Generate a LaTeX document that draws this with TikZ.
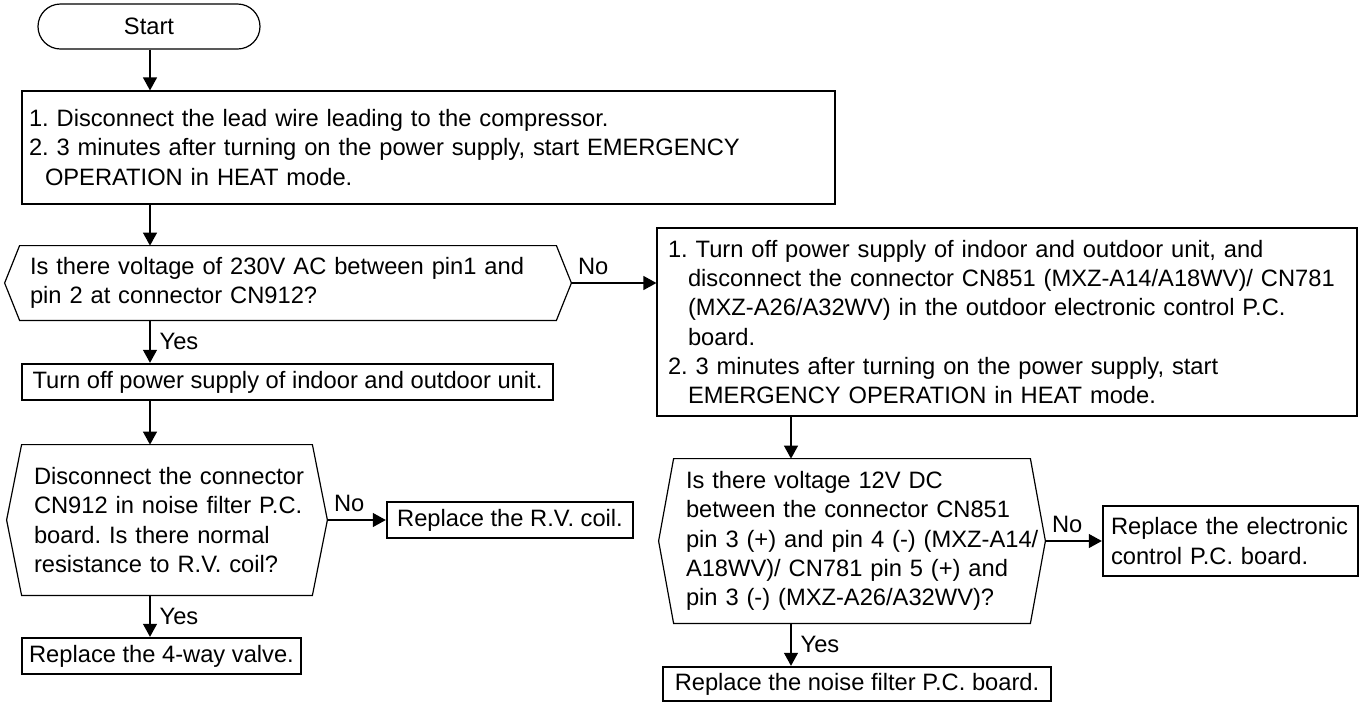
\documentclass[tikz,border=0pt]{standalone}
\usepackage{fontspec}
\setmainfont{Liberation Sans}
\usetikzlibrary{arrows.meta}
\frenchspacing
\newcommand\drawhexagon[1]{%
  \draw[thinline] (#1.north west) -- (#1.north east) -- ([xshift=7.5pt]#1.east) -- (#1.south east) -- (#1.south west) -- ([xshift=-7.5pt]#1.west) -- cycle;}
\begin{document}
\frenchspacing
\begin{tikzpicture}[x=0.5pt,y=-0.5pt,
  every node/.style={font=\fontsize{11.85pt}{14.6pt}\selectfont\frenchspacing, inner sep=0pt},
  thinline/.style={line width=0.6pt},
  arr/.style={thinline, -{Triangle[length=6.5pt,width=7pt]}},
  thinbox/.style={draw, thinline, align=left},
  thickbox/.style={draw, line width=1.2pt, align=center},
  decbody/.style={align=left},
  nolbl/.style={anchor=south west, xshift=3pt, yshift=4pt},
  yeslbl/.style={anchor=west, xshift=4.5pt},
]
\useasboundingbox (0,0) rectangle (1360,703);

\coordinate (colL) at (150,0);
\coordinate (colR) at (791,0);

\node[thinbox, align=center, rounded corners=11.25pt, minimum width=111pt, minimum height=22.5pt] (start) at (149,26.5) {Start};

\node[thinbox, minimum width=406.5pt, minimum height=56.5pt, text width=399.5pt] (b1) at (428.5,147.5)
 {\mbox{1. Disconnect the lead wire leading to the compressor.}\\
  \mbox{2. 3 minutes after turning on the power supply, start EMERGENCY}\\
  \mbox{\hspace*{8pt}OPERATION in HEAT mode.}};

\node[decbody, minimum width=268pt, minimum height=37pt, text width=258pt] (d1) at (288,283)
 {\mbox{Is there voltage of 230V AC between pin1 and}\\
  \mbox{pin 2 at connector CN912?}};
\drawhexagon{d1}
\coordinate (d1e) at ([xshift=7.5pt]d1.east);

\node[thickbox, minimum width=265.5pt, minimum height=18pt] (t1) at (287.5,382) {Turn off power supply of indoor and outdoor unit.};

\node[decbody, minimum width=145pt, minimum height=75pt, text width=133pt] (d3) at (167,520)
 {\mbox{Disconnect the connector}\\
  \mbox{CN912 in noise filter P.C.}\\
  \mbox{board. Is there normal}\\
  \mbox{resistance to R.V. coil?}};
\drawhexagon{d3}
\coordinate (d3e) at ([xshift=7.5pt]d3.east);

\node[thickbox, minimum width=123pt, minimum height=18pt] (rv) at (510,520) {Replace the R.V. coil.};
\node[thickbox, minimum width=139.5pt, minimum height=18pt] (v4) at (161.5,656) {Replace the 4-way valve.};

\node[thinbox, minimum width=350pt, minimum height=94pt, text width=339pt] (b2) at (1007,322)
 {\mbox{1. Turn off power supply of indoor and outdoor unit, and}\\
  \mbox{\hspace*{10pt}disconnect the connector CN851 (MXZ-A14/A18WV)/ CN781}\\
  \mbox{\hspace*{10pt}(MXZ-A26/A32WV) in the outdoor electronic control P.C.}\\
  \mbox{\hspace*{10pt}board.}\\
  \mbox{2. 3 minutes after turning on the power supply, start}\\
  \mbox{\hspace*{10pt}EMERGENCY OPERATION in HEAT mode.}};

\node[decbody, minimum width=178pt, minimum height=82pt, text width=166pt] (d2) at (852,541)
 {\mbox{Is there voltage 12V DC}\\
  \mbox{between the connector CN851}\\
  \mbox{pin 3 (+) and pin 4 (-) (MXZ-A14/}\\
  \mbox{A18WV)/ CN781 pin 5 (+) and}\\
  \mbox{pin 3 (-) (MXZ-A26/A32WV)?}};
\drawhexagon{d2}
\coordinate (d2e) at ([xshift=7.5pt]d2.east);

\node[thickbox, align=left, minimum width=127.5pt, minimum height=35pt, text width=119.5pt] (el) at (1230.5,541)
 {Replace the electronic\\control P.C. board.};
\node[thickbox, minimum width=194pt, minimum height=17pt] (nz) at (857,684) {Replace the noise filter P.C. board.};

\draw[arr] (start.south -| colL) -- (b1.north -| colL);
\draw[arr] (b1.south -| colL) -- (d1.north -| colL);
\draw[arr] (d1.south -| colL) -- node[yeslbl]{Yes} (t1.north -| colL);
\draw[arr] (t1.south -| colL) -- (d3.north -| colL);
\draw[arr] (d3.south -| colL) -- node[yeslbl]{Yes} (v4.north -| colL);
\draw[arr] (d1e) -- node[nolbl, pos=0]{No} (d1e -| b2.west);
\draw[arr] (d3e) -- node[nolbl, pos=0]{No} (d3e -| rv.west);
\draw[arr] (b2.south -| colR) -- (d2.north -| colR);
\draw[arr] (d2e) -- node[nolbl, pos=0]{No} (d2e -| el.west);
\draw[arr] (d2.south -| colR) -- node[yeslbl]{Yes} (nz.north -| colR);
\end{tikzpicture}
\end{document}
